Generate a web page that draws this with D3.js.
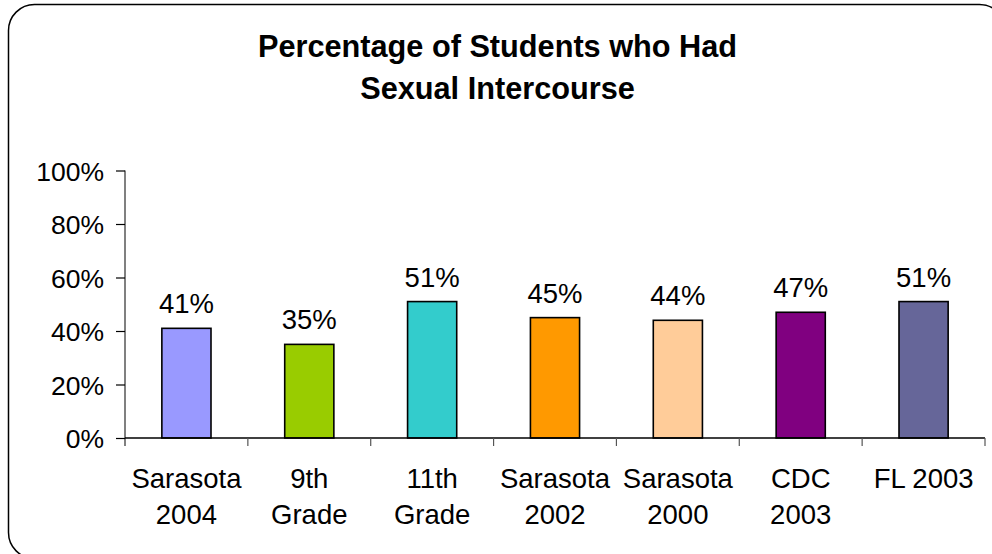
<!DOCTYPE html>
<html>
<head>
<meta charset="utf-8">
<script src="https://cdn.jsdelivr.net/npm/d3@7"></script>
<style>
html,body{margin:0;padding:0;background:#fff;}
svg{display:block;}
text{font-family:"Liberation Sans",Arial,sans-serif;fill:#000;}
</style>
</head>
<body>
<svg id="chart" width="992" height="554"></svg>
<script>
const categories = [["Sarasota","2004"],["9th","Grade"],["11th","Grade"],["Sarasota","2002"],["Sarasota","2000"],["CDC","2003"],["FL 2003"]];
const values = [0.41, 0.35, 0.51, 0.45, 0.44, 0.47, 0.51];
const valueLabels = ["41%","35%","51%","45%","44%","47%","51%"];
const colors = ["#9999FF","#99CC00","#33CCCC","#FF9900","#FFCC99","#800080","#666699"];
const yTicks = [0, 0.2, 0.4, 0.6, 0.8, 1.0];
const titleLines = ["Percentage of Students who Had","Sexual Intercourse"];

(function() {
const svg = d3.select("#chart");
const pLeft = 125, pRight = 985, pTop = 170.5, pBottom = 438;

svg.append("rect")
  .attr("x", 8.5).attr("y", 4.5).attr("width", 997).attr("height", 554)
  .attr("rx", 26).attr("ry", 26)
  .attr("fill", "#fff").attr("stroke", "#000").attr("stroke-width", 1.5);

const idx = d3.range(categories.length);
const x = d3.scaleBand().domain(idx).range([pLeft, pRight]).paddingInner(0.6).paddingOuter(0.3);
const y = d3.scaleLinear().domain([0, 1]).range([pBottom, pTop]);

// title
svg.append("text").attr("text-anchor", "middle")
  .style("font-weight", "bold").style("font-size", "30.7px")
  .selectAll("tspan").data(titleLines).join("tspan")
  .attr("x", 497.5).attr("y", (d, i) => 56.5 + i * 42).text(d => d);

// y axis
const yAxis = svg.append("g").attr("transform", `translate(${pLeft},0)`)
  .call(d3.axisLeft(y).tickValues(yTicks).tickFormat(d3.format(".0%")).tickSize(9).tickPadding(12));
yAxis.select(".domain").attr("stroke", "#808080").attr("stroke-width", 2)
  .attr("d", `M0,${pTop}V${pBottom + 8}`);
yAxis.selectAll(".tick line").attr("stroke", "#000").attr("stroke-width", 1.2);
yAxis.selectAll(".tick text").style("font-size", "26.5px").attr("fill", "#000")
  .style("font-family", "'Liberation Sans',Arial,sans-serif").attr("dy", "0.36em");

// bars
svg.append("g").selectAll("rect").data(idx).join("rect")
  .attr("x", i => x(i)).attr("width", x.bandwidth())
  .attr("y", i => y(values[i])).attr("height", i => y(0) - y(values[i]))
  .attr("fill", i => colors[i]).attr("stroke", "#000").attr("stroke-width", 1.6);

// x axis line and ticks
const boundaries = d3.range(categories.length + 1).map(k => pLeft + k * (pRight - pLeft) / categories.length);
svg.append("line").attr("x1", pLeft).attr("x2", pRight).attr("y1", pBottom).attr("y2", pBottom)
  .attr("stroke", "#000").attr("stroke-width", 1.5);
svg.append("g").selectAll("line").data(boundaries.slice(1)).join("line")
  .attr("x1", d => d).attr("x2", d => d).attr("y1", pBottom).attr("y2", pBottom + 8)
  .attr("stroke", "#555").attr("stroke-width", 1.2);

// value labels
svg.append("g").selectAll("text").data(idx).join("text")
  .attr("x", i => x(i) + x.bandwidth() / 2).attr("y", i => y(values[i]) - 15)
  .attr("text-anchor", "middle").style("font-size", "27.5px").text(i => valueLabels[i]);

// category labels
const cl = svg.append("g").selectAll("text").data(idx).join("text")
  .attr("text-anchor", "middle").style("font-size", "27.5px");
cl.each(function(i) {
  const t = d3.select(this);
  categories[i].forEach((line, j) => {
    t.append("tspan").attr("x", x(i) + x.bandwidth() / 2).attr("y", 488 + j * 36).text(line);
  });
});
})();
</script>
</body>
</html>
